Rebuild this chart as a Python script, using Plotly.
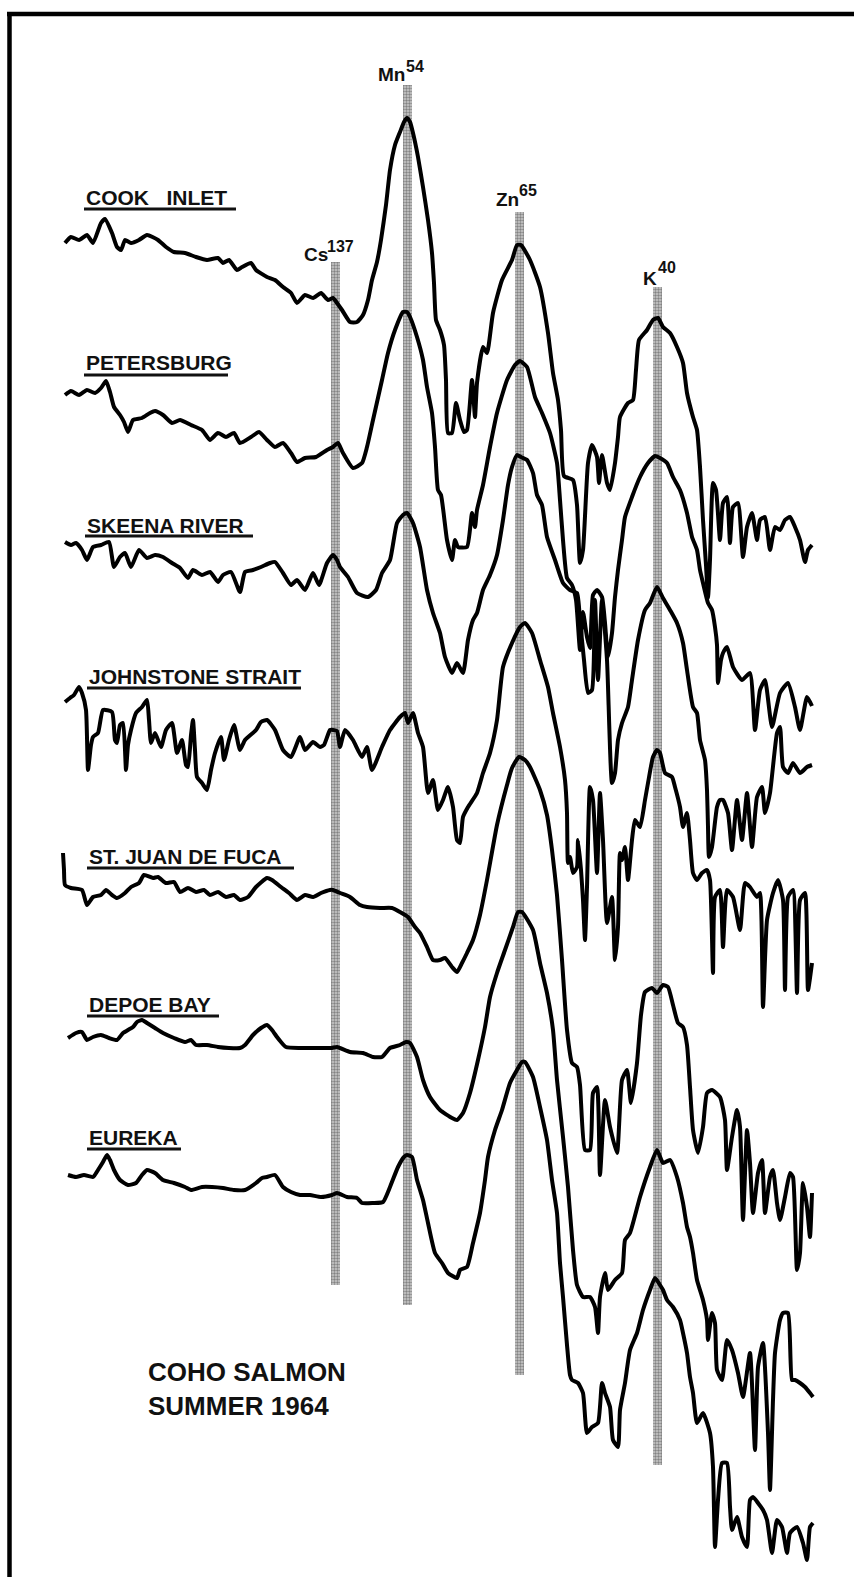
import plotly.graph_objects as go

# ---------------------------------------------------------------
# Gamma-ray spectra of Coho salmon, summer 1964
# x = analyser channel, y = trace level (chart units, downward)
# ---------------------------------------------------------------
cook_inlet = [
    (65,243),(71,237),(79,240),(87,235),(93,243),(101,223),(105,219),(112,233),(117,247),(121,250),
    (125,240),(131,243),(139,240),(147,235),(158,240),(166,247),(174,252),(185,253),(196,257),(207,260),
    (218,258),(223,263),(229,260),(237,270),(242,267),(251,263),(256,270),(267,277),(275,280),(283,287),
    (291,293),(297,303),(305,295),(313,298),(321,293),(328,300),(333,298),(337,303),(342,310),(350,322),
    (357,322),(363,315),(368,300),(372,280),(377,262),(381,240),(386,205),(390,170),(395,145),(400,132),
    (404,122),(407,118),(410,122),(413,133),(418,157),(423,187),(428,220),(432,253),(434,283),(436,320),
    (440,330),(444,345),(446,380),(448,433),(452,433),(456,403),(460,420),(464,432),(467,430),(472,380),
    (475,417),(477,383),(483,347),(487,353),(493,313),(502,280),(512,260),(517,245),(521,245),(530,260),
    (540,287),(548,333),(553,373),(558,400),(561,430),(564,476),(573,480),(577,505),(580,563),(583,550),
    (588,463),(592,445),(597,457),(599,483),(602,455),(607,483),(610,490),(615,463),(618,437),(620,417),
    (628,403),(633,400),(636,370),(639,340),(647,330),(653,320),(658,318),(663,327),(670,333),(677,347),
    (683,363),(687,393),(693,417),(697,430),(700,467),(703,520),(706,565),(708,598),(710,560),(713,483),
    (716,490),(720,540),(723,503),(727,497),(730,543),(733,507),(738,503),(743,557),(747,527),(752,513),
    (757,540),(760,520),(765,517),(770,550),(775,527),(780,530),(785,520),(790,517),(795,527),(800,540),
    (805,562),(808,550),(812,545),
]

petersburg = [
    (65,395),(71,391),(79,395),(87,390),(95,393),(101,388),(106,381),(110,392),(114,407),(120,415),
    (124,422),(128,432),(133,420),(142,418),(150,413),(155,411),(163,415),(172,423),(180,420),(191,425),
    (202,430),(210,440),(218,433),(226,437),(234,433),(240,443),(251,437),(259,432),(267,440),(275,447),
    (283,443),(291,453),(297,462),(305,458),(316,457),(327,450),(333,447),(338,443),(343,453),(353,468),
    (362,463),(367,447),(373,420),(382,380),(388,353),(395,330),(403,312),(407,312),(410,317),(417,337),
    (423,360),(427,387),(432,413),(435,447),(438,490),(441,495),(447,540),(452,560),(455,540),(458,547),
    (467,547),(472,513),(475,527),(477,510),(483,485),(490,447),(497,413),(507,380),(515,365),(520,361),
    (527,367),(535,397),(542,413),(550,433),(557,463),(560,500),(563,540),(567,578),(572,585),(576,600),
    (580,650),(583,612),(587,637),(590,648),(593,595),(597,590),(602,597),(605,623),(608,657),(612,633),
    (615,597),(618,570),(622,540),(625,517),(632,497),(640,477),(648,463),(655,456),(660,458),(667,463),
    (673,477),(680,490),(687,513),(692,537),(697,550),(700,570),(703,583),(708,603),(712,610),(715,627),
    (717,645),(718,683),(721,660),(723,653),(727,647),(733,667),(742,680),(750,673),(755,730),(760,690),
    (765,680),(772,727),(780,693),(788,683),(795,707),(800,730),(807,697),(812,706),
]

skeena_river = [
    (65,542),(71,545),(76,543),(82,550),(87,560),(93,547),(101,545),(109,542),(114,567),(120,557),
    (125,553),(131,567),(139,550),(147,558),(155,555),(163,557),(172,563),(180,568),(188,578),(193,570),
    (202,575),(210,572),(218,582),(223,575),(231,572),(240,592),(245,572),(253,570),(261,567),(270,563),
    (275,562),(283,573),(291,585),(297,580),(305,590),(313,573),(319,585),(327,563),(333,555),(337,560),
    (340,567),(348,577),(357,593),(368,597),(376,590),(382,573),(390,560),(397,523),(403,515),(407,513),
    (413,523),(420,547),(427,590),(433,613),(440,633),(445,657),(452,673),(457,663),(463,673),(468,640),
    (473,620),(477,613),(483,590),(490,575),(497,555),(503,520),(508,485),(512,467),(517,455),(521,457),
    (527,460),(533,473),(537,495),(542,505),(547,537),(555,560),(563,583),(570,590),(577,593),(580,620),
    (584,660),(588,693),(592,690),(595,600),(598,680),(602,600),(607,660),(612,783),(615,773),(618,740),
    (622,723),(628,707),(632,680),(638,640),(645,610),(650,603),(657,587),(663,598),(670,610),(677,623),
    (683,643),(687,670),(693,707),(697,713),(700,740),(705,760),(707,790),(708,827),(709,857),(712,847),
    (717,807),(720,800),(723,800),(728,813),(732,850),(737,800),(742,840),(747,793),(752,847),(757,797),
    (762,787),(765,813),(770,793),(777,733),(780,727),(783,767),(788,773),(793,763),(800,773),(807,767),
    (812,765),
]

johnstone_strait = [
    (65,702),(70,698),(74,695),(79,687),(82,693),(86,710),(88,770),(91,745),(93,737),(98,733),
    (103,710),(112,712),(115,740),(117,743),(120,725),(123,723),(126,770),(128,745),(131,730),(136,713),
    (142,707),(147,700),(149,720),(151,743),(155,733),(161,747),(166,730),(172,723),(177,753),(182,740),
    (186,765),(188,767),(191,735),(193,720),(195,750),(197,777),(202,783),(207,790),(211,770),(215,753),
    (221,737),(224,760),(229,740),(234,725),(240,750),(245,740),(256,730),(261,722),(267,720),(275,730),
    (283,750),(291,757),(300,737),(305,750),(313,742),(320,747),(324,745),(330,730),(333,730),(337,731),
    (340,747),(345,730),(353,740),(362,757),(367,747),(372,770),(382,747),(390,730),(400,717),(405,713),
    (408,723),(413,713),(418,733),(423,747),(428,793),(433,780),(438,810),(443,800),(448,787),(453,807),
    (457,840),(460,843),(463,817),(468,807),(477,793),(483,773),(490,753),(497,720),(503,667),(512,643),
    (520,627),(525,623),(532,633),(540,660),(548,687),(553,713),(560,747),(565,780),(567,813),(568,863),
    (570,857),(573,873),(577,867),(578,840),(581,870),(583,900),(585,940),(587,887),(590,787),(593,800),
    (597,873),(600,793),(603,840),(607,923),(612,897),(615,960),(618,927),(620,853),(622,860),(625,847),
    (628,880),(632,840),(635,820),(640,827),(645,800),(648,783),(653,757),(657,750),(660,753),(665,773),
    (672,777),(675,787),(680,807),(683,827),(687,813),(690,840),(693,873),(697,880),(702,873),(707,870),
    (710,880),(713,973),(715,897),(720,890),(723,947),(727,890),(733,897),(740,930),(745,883),(750,887),
    (757,897),(760,893),(763,1007),(767,920),(773,893),(778,880),(783,900),(785,990),(788,897),(793,890),
    (797,993),(800,900),(805,893),(808,990),(812,963),
]

st_juan_de_fuca = [
    (63,853),(64,870),(65,885),(71,888),(82,890),(87,905),(93,897),(101,895),(106,890),(112,895),
    (117,898),(125,893),(131,887),(139,883),(144,875),(153,878),(158,877),(166,883),(174,882),(180,892),
    (188,888),(196,892),(204,890),(210,895),(218,892),(226,897),(234,895),(240,900),(248,897),(256,887),
    (267,878),(272,880),(281,887),(289,893),(297,900),(305,895),(313,897),(321,893),(330,890),(333,890),
    (340,893),(350,897),(360,905),(367,907),(380,908),(392,908),(400,912),(408,917),(415,927),(420,933),
    (427,947),(433,960),(440,960),(445,958),(452,967),(457,972),(462,963),(467,953),(473,940),(480,915),
    (487,880),(497,825),(507,785),(512,768),(519,757),(525,760),(530,767),(540,790),(547,815),(552,850),
    (557,895),(562,960),(567,1030),(572,1063),(577,1067),(580,1085),(585,1150),(590,1150),(593,1093),(597,1087),
    (600,1175),(605,1100),(610,1127),(617,1153),(622,1080),(627,1070),(631,1103),(637,1063),(641,1015),(645,992),
    (652,988),(657,993),(663,985),(668,987),(673,1005),(678,1023),(683,1027),(687,1045),(690,1087),(693,1130),
    (698,1153),(703,1127),(707,1093),(712,1090),(720,1097),(725,1120),(727,1170),(732,1137),(737,1110),(740,1127),
    (743,1220),(747,1130),(750,1163),(753,1213),(758,1173),(762,1160),(765,1213),(770,1177),(773,1170),(777,1203),
    (780,1220),(785,1197),(790,1173),(793,1177),(797,1270),(800,1253),(803,1183),(807,1207),(810,1237),(812,1193),
]

depoe_bay = [
    (68,1038),(76,1033),(82,1032),(87,1040),(93,1037),(101,1035),(109,1038),(117,1040),(123,1033),(128,1030),
    (133,1027),(137,1022),(142,1020),(147,1023),(155,1028),(163,1033),(174,1038),(185,1042),(191,1040),(196,1045),
    (207,1045),(218,1047),(229,1048),(240,1048),(245,1045),(253,1035),(261,1028),(267,1025),(272,1030),(277,1037),
    (281,1042),(286,1047),(300,1048),(316,1048),(332,1048),(337,1047),(350,1052),(363,1053),(373,1057),(382,1057),
    (390,1048),(400,1045),(406,1042),(410,1043),(417,1057),(423,1080),(430,1097),(440,1110),(452,1118),(457,1120),
    (463,1113),(470,1093),(478,1060),(485,1027),(490,997),(497,973),(505,950),(513,927),(518,912),(522,912),
    (533,930),(540,963),(547,993),(553,1030),(557,1080),(563,1137),(568,1187),(573,1250),(577,1285),(583,1297),
    (590,1297),(595,1307),(598,1333),(600,1297),(605,1273),(608,1290),(615,1280),(622,1273),(625,1240),(630,1233),
    (640,1197),(650,1167),(657,1150),(663,1163),(670,1160),(677,1177),(683,1203),(687,1227),(690,1237),(693,1253),
    (697,1280),(703,1300),(707,1320),(708,1340),(712,1313),(715,1323),(717,1370),(722,1380),(727,1340),(732,1350),
    (738,1373),(743,1397),(750,1353),(755,1450),(758,1367),(763,1343),(768,1433),(770,1490),(773,1400),(775,1353),
    (780,1320),(783,1313),(788,1313),(792,1380),(795,1380),(800,1383),(805,1387),(810,1393),(813,1397),
]

eureka = [
    (68,1175),(76,1177),(84,1175),(93,1177),(98,1170),(103,1162),(107,1155),(110,1160),(114,1170),(120,1180),
    (128,1185),(136,1183),(142,1175),(147,1170),(155,1173),(163,1180),(174,1183),(185,1187),(191,1190),(202,1187),
    (212,1187),(223,1188),(234,1190),(245,1190),(256,1183),(262,1178),(267,1177),(275,1175),(283,1187),(291,1192),
    (300,1195),(310,1195),(321,1197),(332,1195),(337,1193),(347,1197),(357,1198),(362,1203),(373,1203),(383,1202),
    (390,1187),(398,1167),(404,1157),(407,1155),(412,1157),(417,1180),(423,1200),(428,1223),(435,1253),(442,1263),
    (448,1273),(457,1278),(460,1270),(467,1267),(473,1243),(480,1213),(485,1180),(488,1157),(495,1130),(502,1110),
    (510,1083),(517,1070),(522,1062),(525,1062),(533,1077),(540,1107),(547,1140),(552,1180),(557,1213),(560,1263),
    (563,1297),(567,1345),(570,1375),(572,1380),(578,1383),(583,1393),(587,1433),(592,1427),(598,1423),(602,1383),
    (605,1393),(610,1407),(613,1440),(618,1447),(620,1410),(625,1383),(630,1350),(637,1333),(643,1310),(650,1290),
    (655,1278),(660,1285),(663,1290),(667,1300),(673,1307),(680,1320),(683,1333),(687,1353),(690,1377),(693,1393),
    (697,1423),(703,1413),(710,1433),(713,1467),(715,1547),(718,1500),(722,1463),(727,1463),(730,1507),(732,1530),
    (737,1517),(742,1537),(747,1547),(750,1500),(753,1497),(758,1503),(763,1510),(767,1520),(772,1553),(777,1520),
    (782,1527),(787,1553),(790,1533),(797,1527),(803,1543),(807,1560),(810,1527),(813,1523),
]

spectra = [cook_inlet, petersburg, skeena_river, johnstone_strait,
           st_juan_de_fuca, depoe_bay, eureka]

# Station labels
station_names = ["COOK\u00a0\u00a0\u00a0INLET", "PETERSBURG", "SKEENA RIVER", "JOHNSTONE STRAIT",
                 "ST.\u00a0JUAN DE FUCA", "DEPOE BAY", "EUREKA"]
label_x = [84, 84, 85, 87, 87, 87, 87]
label_y = [197, 362, 525, 676, 856, 1004, 1137]
underline_end = [236, 228, 253, 301, 294, 219, 181]
underline_y = [209, 375, 536, 688, 868, 1016, 1149]

# Isotope marker bands (photopeak channels)
iso_name = ["Cs", "Mn", "Zn", "K"]
iso_mass = ["137", "54", "65", "40"]
iso_channel = [335, 407, 519, 657]
iso_top = [262, 85, 212, 287]
iso_bottom = [1285, 1305, 1375, 1465]
iso_label_x = [302, 376, 494, 641]
iso_label_y = [254, 74, 199, 278]
iso_sup_x = [325, 404, 517, 656]
iso_sup_y = [246, 66, 190, 267]

fig = go.Figure()

for ch, top, bot in zip(iso_channel, iso_top, iso_bottom):
    fig.add_trace(go.Bar(
        x=[ch], y=[bot - top], base=[top], width=9,
        marker=dict(color="#a8a8a8", line_width=0,
                    pattern=dict(shape=".", fgcolor="#3a3a3a", bgcolor="#cccccc",
                                 size=3, solidity=0.5)),
        showlegend=False, hoverinfo="skip"))

for pts in spectra:
    xs = [p[0] for p in pts]
    ys = [p[1] for p in pts]
    fig.add_trace(go.Scatter(x=xs, y=ys, mode="lines",
                             line=dict(color="#000000", width=4, shape="spline", smoothing=0.5),
                             showlegend=False, hoverinfo="skip"))

annotations = []
shapes = []
LBL_FONT = "Liberation Sans, Arial, sans-serif"
for name, lx, ly, ue, uy in zip(station_names, label_x, label_y, underline_end, underline_y):
    annotations.append(dict(x=lx, y=ly, xref="x", yref="y", xanchor="left", yanchor="middle",
                            text="<b>" + name + "</b>", showarrow=False,
                            font=dict(family=LBL_FONT, size=21, color="#111111")))
    shapes.append(dict(type="line", xref="x", yref="y", x0=lx, x1=ue, y0=uy, y1=uy,
                       line=dict(color="#111111", width=3)))

for nm, ms, lx, ly, sx, sy in zip(iso_name, iso_mass, iso_label_x, iso_label_y, iso_sup_x, iso_sup_y):
    annotations.append(dict(x=lx, y=ly, xref="x", yref="y", xanchor="left", yanchor="middle",
                            text="<b>" + nm + "</b>", showarrow=False,
                            font=dict(family=LBL_FONT, size=19, color="#111111")))
    annotations.append(dict(x=sx, y=sy, xref="x", yref="y", xanchor="left", yanchor="middle",
                            text="<b>" + ms + "</b>", showarrow=False,
                            font=dict(family=LBL_FONT, size=16, color="#111111")))

annotations.append(dict(x=146, y=1372, xref="x", yref="y", xanchor="left", yanchor="middle",
                        text="<b>COHO SALMON</b>", showarrow=False,
                        font=dict(family=LBL_FONT, size=26, color="#111111")))
annotations.append(dict(x=146, y=1406, xref="x", yref="y", xanchor="left", yanchor="middle",
                        text="<b>SUMMER 1964</b>", showarrow=False,
                        font=dict(family=LBL_FONT, size=26, color="#111111")))

# frame
shapes.append(dict(type="line", xref="x", yref="y", x0=7, x1=854, y0=14, y1=14,
                   line=dict(color="#000000", width=4.5)))
shapes.append(dict(type="line", xref="x", yref="y", x0=9.5, x1=9.5, y0=12, y1=1577,
                   line=dict(color="#000000", width=4.5)))

fig.update_layout(
    width=854, height=1577,
    margin=dict(l=0, r=0, t=0, b=0),
    paper_bgcolor="white", plot_bgcolor="white",
    barmode="overlay", bargap=0,
    xaxis=dict(range=[0, 854], visible=False, fixedrange=True),
    yaxis=dict(range=[1577, 0], visible=False, fixedrange=True),
    annotations=annotations, shapes=shapes,
    showlegend=False,
)

fig.write_html("out.html",
               config={"displayModeBar": False, "staticPlot": True},
               post_script="document.body.style.margin='0px';document.body.style.overflow='hidden';")
